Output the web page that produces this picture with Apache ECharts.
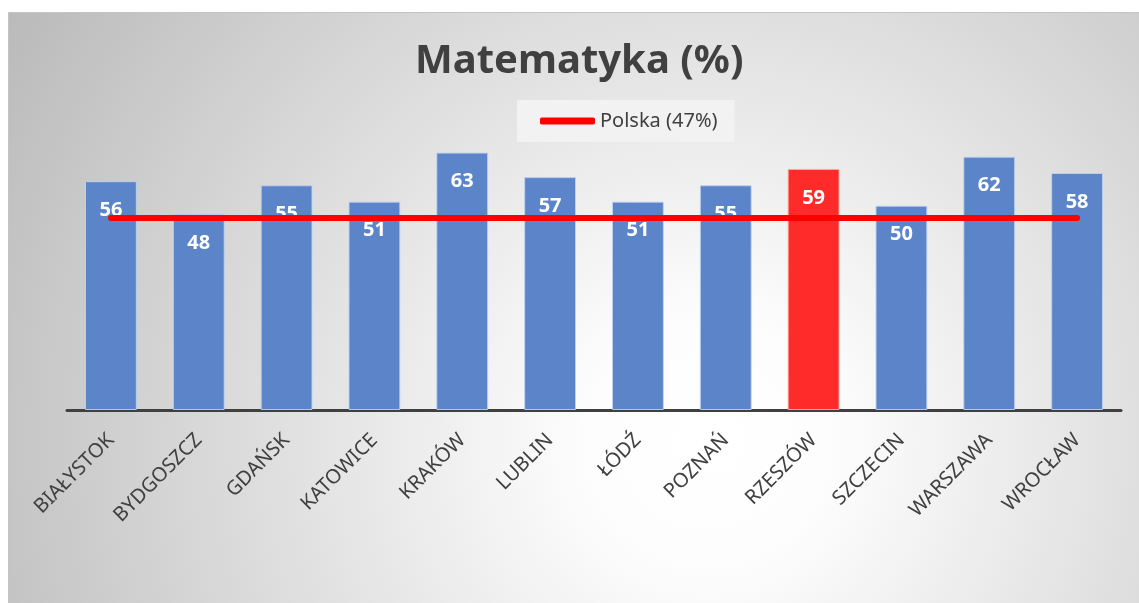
<!DOCTYPE html>
<html>
<head>
<meta charset="utf-8">
<script src="https://cdn.jsdelivr.net/npm/echarts@6/dist/echarts.min.js"></script>
<style>
  html, body { margin: 0; padding: 0; background: #fff; }
  #chart { width: 1139px; height: 603px; }
</style>
</head>
<body>
<div id="chart"></div>
<script>
// dane
const cities = ['BIAŁYSTOK', 'BYDGOSZCZ', 'GDAŃSK', 'KATOWICE', 'KRAKÓW', 'LUBLIN', 'ŁÓDŹ', 'POZNAŃ', 'RZESZÓW', 'SZCZECIN', 'WARSZAWA', 'WROCŁAW'];
const scores = [56, 48, 55, 51, 63, 57, 51, 55, 59, 50, 62, 58];
const polska = [47, 47, 47, 47, 47, 47, 47, 47, 47, 47, 47, 47];
const highlight = 'RZESZÓW';

const myechart = echarts.init(document.getElementById('chart'));

const barData = scores.map((v, i) => {
  if (cities[i] === highlight) {
    return { value: v, itemStyle: { color: '#ff2a2a', borderColor: 'rgba(255,170,170,0.9)' } };
  }
  return v;
});

const option = {
  animation: false,
  graphic: [
    {
      // tło z gradientem
      type: 'rect',
      left: 8,
      top: 12,
      z: -10,
      shape: { width: 1131, height: 591 },
      style: {
        fill: new echarts.graphic.RadialGradient(700, 430, 820, [
          { offset: 0, color: '#ffffff' },
          { offset: 0.15, color: '#fdfdfd' },
          { offset: 1, color: '#bababa' },
        ], true),
        stroke: '#c4c4c4',
        lineWidth: 1,
      },
    },
  ],
  title: {
    text: 'Matematyka (%)',
    left: 410,
    top: 37,
    textStyle: {
      fontFamily: 'Noto Sans',
      fontSize: 40,
      fontWeight: 'bold',
      color: '#404040',
    },
  },
  legend: {
    data: ['Polska (47%)'],
    left: 517,
    top: 100,
    padding: [11, 17, 11, 23],
    backgroundColor: '#f2f2f2',
    itemWidth: 55,
    itemHeight: 7,
    icon: 'roundRect',
    textStyle: {
      fontFamily: 'Noto Sans',
      fontSize: 20,
      color: '#404040',
    },
  },
  grid: {
    left: 67,
    right: 18,
    top: 124,
    bottom: 193,
  },
  xAxis: [
    {
      type: 'category',
      data: cities,
      axisTick: { show: false },
      axisLine: {
        lineStyle: { color: '#404040', width: 3 },
      },
      axisLabel: {
        rotate: 45,
        interval: 0,
        margin: 27,
        fontFamily: 'Noto Sans',
        fontSize: 20,
        color: '#404040',
      },
    },
  ],
  yAxis: [
    {
      type: 'value',
      min: 0,
      max: 70,
      show: false,
      splitLine: { show: false },
    },
  ],
  series: [
    {
      name: 'Matematyka',
      type: 'bar',
      data: barData,
      barCategoryGap: '41%',
      z: 2,
      itemStyle: {
        color: '#5b84c9',
        borderColor: 'rgba(190,210,240,0.9)',
        borderWidth: 1,
      },
      label: {
        show: true,
        position: 'insideTop',
        distance: 19,
        color: '#ffffff',
        fontFamily: 'Noto Sans',
        fontWeight: 'bold',
        fontSize: 20,
      },
    },
    {
      name: 'Polska (47%)',
      type: 'line',
      data: polska,
      z: 2,
      symbol: 'none',
      color: '#ff0000',
      lineStyle: { color: '#ff0000', width: 6, cap: 'round' },
    },
  ],
};

myechart.setOption(option);
</script>
</body>
</html>
